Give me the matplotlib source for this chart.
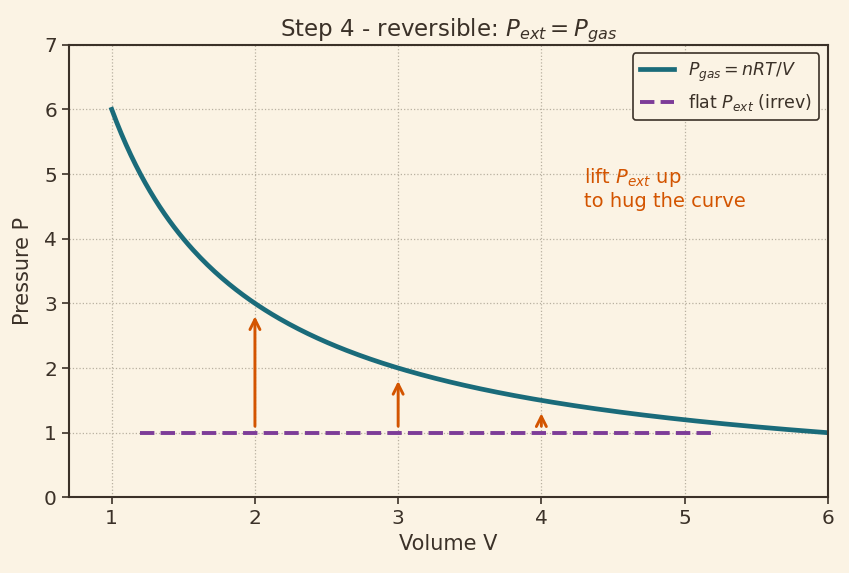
import numpy as np
import matplotlib
matplotlib.use("Agg")
import matplotlib.pyplot as plt

# data
nRT = 6.0
V_curve = np.linspace(1, 6, 300)
P_curve = nRT / V_curve
flat_V = [1.2, 5.2]
flat_P = [1.0, 1.0]
arrow_V = [2, 3, 4]
arrow_base = 1.1

bg = "#fbf3e4"
ink = "#3b3128"

plt.rcParams["font.family"] = "DejaVu Sans"
fig, ax = plt.subplots(figsize=(8.49, 5.73), dpi=100)
fig.patch.set_facecolor(bg)
ax.set_facecolor(bg)

ax.plot(V_curve, P_curve, color="#1a6b7a", lw=3.4, label=r"$P_{gas} = nRT/V$")
ax.plot(flat_V, flat_P, color="#7d3c98", lw=2.8, ls="--", label=r"flat $P_{ext}$ (irrev)")

for v in arrow_V:
    ax.annotate("", xy=(v, nRT / v - 0.2), xytext=(v, arrow_base),
                arrowprops=dict(arrowstyle="->", color="#d35400", lw=2.1,
                                mutation_scale=18, shrinkA=0, shrinkB=0))

ax.text(4.3, 4.78, "lift $P_{ext}$ up\nto hug the curve", color="#d35400",
        fontsize=14, va="center", ha="left")

ax.set_xlim(0.7, 6)
ax.set_ylim(0, 7)
ax.set_xticks([1, 2, 3, 4, 5, 6])
ax.set_yticks(range(8))
ax.grid(True, ls=":", color="#b8b0a0", lw=0.9)
ax.set_xlabel("Volume V", fontsize=15, color=ink)
ax.set_ylabel("Pressure P", fontsize=15, color=ink, labelpad=8)
ax.set_title("Step 4 - reversible: $P_{ext} = P_{gas}$", fontsize=16.5, color=ink)
ax.tick_params(labelsize=14.5, colors=ink, length=5, width=1.2)
for s in ax.spines.values():
    s.set_color(ink)
    s.set_linewidth(1.5)

leg = ax.legend(loc="upper right", fontsize=12.5, facecolor=bg, edgecolor=ink,
                framealpha=1, fancybox=True)
leg.get_frame().set_linewidth(1.2)
for t in leg.get_texts():
    t.set_color(ink)

fig.subplots_adjust(left=0.081, right=0.975, top=0.922, bottom=0.132)
fig.savefig("out.png", dpi=100, facecolor=bg)
